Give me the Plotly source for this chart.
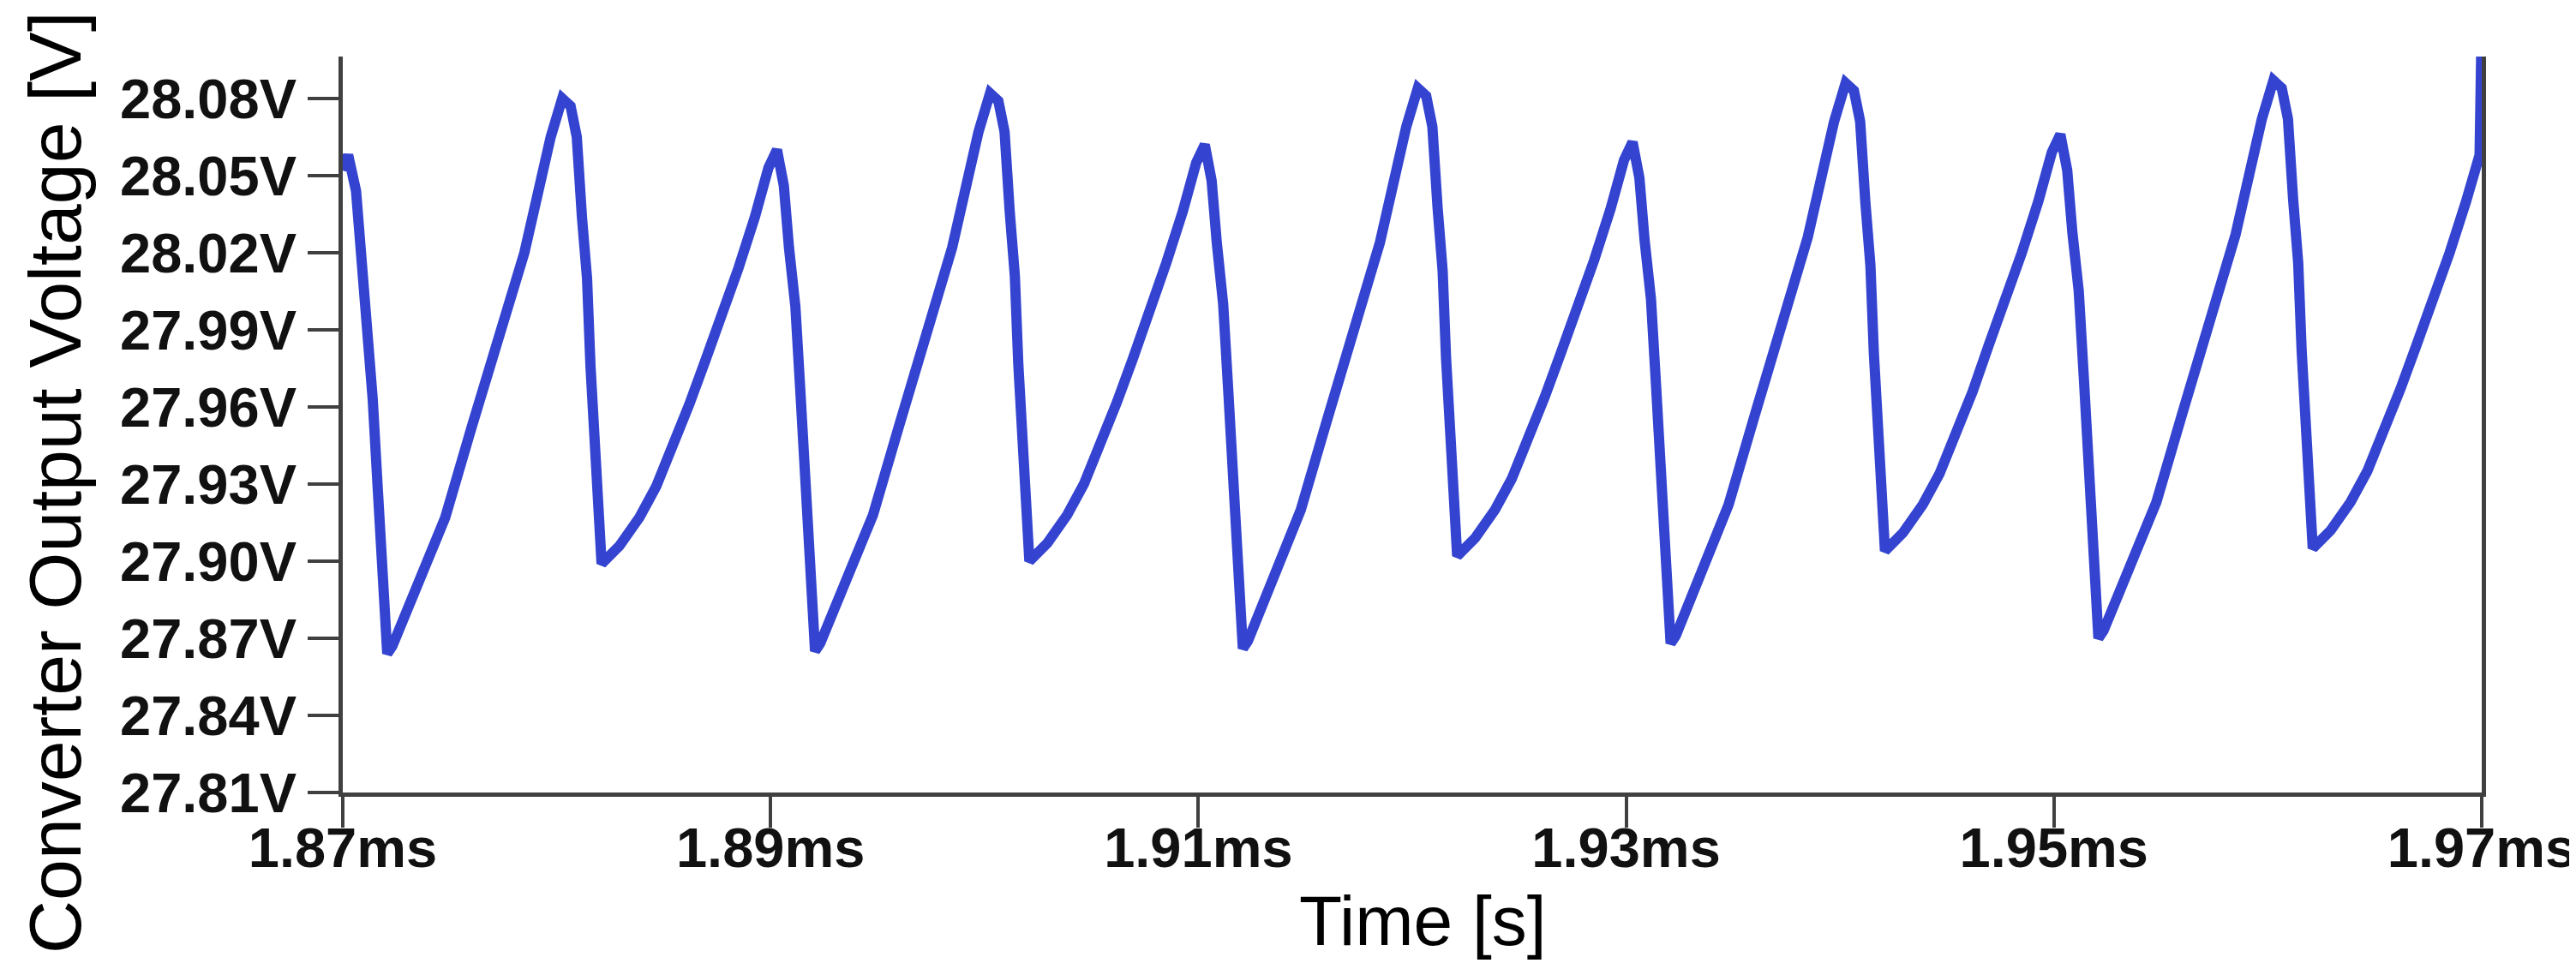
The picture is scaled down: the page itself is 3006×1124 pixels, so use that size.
import plotly.graph_objects as go

# Time in microseconds (absolute, 1870 us = 1.87 ms)
time_us = [
    1870.00, 1870.25, 1870.62, 1870.86, 1871.16, 1871.40, 1871.63, 1871.93, 1872.08,
    1872.32, 1873.71, 1874.79, 1876.02, 1877.25, 1878.49, 1879.72, 1879.95, 1880.26,
    1880.65, 1880.94, 1881.18, 1881.42, 1881.58, 1881.80, 1881.94, 1882.10,
    1882.94, 1883.87, 1884.65, 1885.42, 1886.20, 1886.95, 1887.73, 1888.50, 1889.27, 1889.90, 1890.30,
    1890.62, 1890.86, 1891.16, 1891.40, 1891.63, 1891.93, 1892.08,
    1892.32, 1893.71, 1894.79, 1896.02, 1897.25, 1898.49, 1899.72, 1899.95, 1900.26,
    1900.65, 1900.94, 1901.18, 1901.42, 1901.58, 1901.80, 1901.94, 1902.10,
    1902.94, 1903.87, 1904.65, 1905.42, 1906.20, 1906.95, 1907.73, 1908.50, 1909.27, 1909.90, 1910.30,
    1910.62, 1910.86, 1911.16, 1911.40, 1911.63, 1911.93, 1912.08,
    1912.32, 1913.71, 1914.79, 1916.02, 1917.25, 1918.49, 1919.72, 1919.95, 1920.26,
    1920.65, 1920.94, 1921.18, 1921.42, 1921.58, 1921.80, 1921.94, 1922.10,
    1922.94, 1923.87, 1924.65, 1925.42, 1926.20, 1926.95, 1927.73, 1928.50, 1929.27, 1929.90, 1930.30,
    1930.62, 1930.86, 1931.16, 1931.40, 1931.63, 1931.93, 1932.08,
    1932.32, 1933.71, 1934.79, 1936.02, 1937.25, 1938.49, 1939.72, 1939.95, 1940.26,
    1940.65, 1940.94, 1941.18, 1941.42, 1941.58, 1941.80, 1941.94, 1942.10,
    1942.94, 1943.87, 1944.65, 1945.42, 1946.20, 1946.95, 1947.73, 1948.50, 1949.27, 1949.90, 1950.30,
    1950.62, 1950.86, 1951.16, 1951.40, 1951.63, 1951.93, 1952.08,
    1952.32, 1953.71, 1954.79, 1956.02, 1957.25, 1958.49, 1959.72, 1959.95, 1960.26,
    1960.65, 1960.94, 1961.18, 1961.42, 1961.58, 1961.80, 1961.94, 1962.10,
    1962.94, 1963.87, 1964.65, 1965.42, 1966.20, 1966.95, 1967.73, 1968.50, 1969.27, 1969.90, 1970.00,
]

# Converter output voltage [V]
voltage = [
    28.052, 28.058, 28.044, 28.020, 27.997, 27.963, 27.929, 27.893, 27.864,
    27.867, 27.896, 27.917, 27.952, 27.986, 28.020, 28.065, 28.073, 28.080,
    28.077, 28.065, 28.034, 28.010, 27.976, 27.946, 27.920, 27.899,
    27.906, 27.917, 27.929, 27.944, 27.961, 27.978, 27.995, 28.014, 28.034, 28.053, 28.060,
    28.046, 28.022, 27.999, 27.965, 27.931, 27.895, 27.865,
    27.868, 27.897, 27.918, 27.953, 27.988, 28.022, 28.067, 28.075, 28.082,
    28.079, 28.067, 28.036, 28.011, 27.977, 27.947, 27.921, 27.900,
    27.907, 27.918, 27.930, 27.945, 27.962, 27.979, 27.997, 28.016, 28.036, 28.055, 28.062,
    28.048, 28.024, 28.000, 27.966, 27.932, 27.896, 27.866,
    27.869, 27.898, 27.920, 27.955, 27.990, 28.024, 28.069, 28.077, 28.084,
    28.081, 28.069, 28.038, 28.013, 27.979, 27.949, 27.923, 27.902,
    27.909, 27.920, 27.932, 27.947, 27.964, 27.981, 27.998, 28.017, 28.037, 28.056, 28.063,
    28.049, 28.025, 28.002, 27.968, 27.934, 27.898, 27.868,
    27.871, 27.900, 27.922, 27.957, 27.992, 28.026, 28.071, 28.079, 28.086,
    28.083, 28.071, 28.040, 28.015, 27.981, 27.951, 27.925, 27.904,
    27.911, 27.922, 27.934, 27.949, 27.966, 27.984, 28.001, 28.020, 28.040, 28.059, 28.066,
    28.052, 28.028, 28.005, 27.971, 27.937, 27.900, 27.870,
    27.873, 27.902, 27.923, 27.958, 27.993, 28.027, 28.072, 28.080, 28.087,
    28.084, 28.072, 28.041, 28.016, 27.982, 27.952, 27.926, 27.905,
    27.912, 27.923, 27.935, 27.950, 27.967, 27.984, 28.001, 28.020, 28.040, 28.058, 28.110,
]

x_tick_vals = [1870, 1890, 1910, 1930, 1950, 1970]
x_tick_text = ["1.87ms", "1.89ms", "1.91ms", "1.93ms", "1.95ms", "1.97ms"]
y_tick_vals = [27.81, 27.84, 27.87, 27.90, 27.93, 27.96, 27.99, 28.02, 28.05, 28.08]
y_tick_text = ["27.81V", "27.84V", "27.87V", "27.90V", "27.93V", "27.96V",
               "27.99V", "28.02V", "28.05V", "28.08V"]

x_title = "Time [s]"
y_title = "Converter Output Voltage [V]"

fig = go.Figure()
fig.add_trace(go.Scatter(
    x=time_us, y=voltage, mode="lines",
    line=dict(color="#3444D0", width=12),
    showlegend=False, hoverinfo="skip",
))

tickfont = dict(family="Liberation Sans, Arial, sans-serif", size=65, color="#111111", weight="bold")
axis_col = "#404040"

fig.update_layout(
    width=3006, height=1124,
    margin=dict(l=392, r=118, t=58, b=207, autoexpand=False),
    paper_bgcolor="white", plot_bgcolor="white",
    xaxis=dict(
        range=[1870, 1970], tickvals=x_tick_vals, ticktext=x_tick_text,
        showgrid=False, zeroline=False, showline=True, linecolor=axis_col, linewidth=5,
        ticks="outside", ticklen=36, tickwidth=4, tickcolor=axis_col,
        tickfont=tickfont, mirror=False, ticklabelstandoff=-32,
    ),
    yaxis=dict(
        range=[27.81, 28.0963], tickvals=y_tick_vals, ticktext=y_tick_text,
        showgrid=False, zeroline=False, showline=True, linecolor=axis_col, linewidth=5,
        ticks="outside", ticklen=36, tickwidth=4, tickcolor=axis_col,
        tickfont=tickfont, mirror=True,
    ),
    annotations=[
        dict(text=y_title, textangle=-90, showarrow=False,
             xref="paper", yref="paper", x=(56 - 392) / 2496, y=(917 - 555) / 859,
             xanchor="center", yanchor="middle",
             font=dict(family="Liberation Sans, Arial, sans-serif", size=86, color="black")),
        dict(text=x_title, showarrow=False,
             xref="paper", yref="paper", x=(1652 - 392) / 2496, y=(917 - 1066) / 859,
             xanchor="center", yanchor="middle",
             font=dict(family="Liberation Sans, Arial, sans-serif", size=82, color="black")),
    ],
)

fig.write_html("out.html")
